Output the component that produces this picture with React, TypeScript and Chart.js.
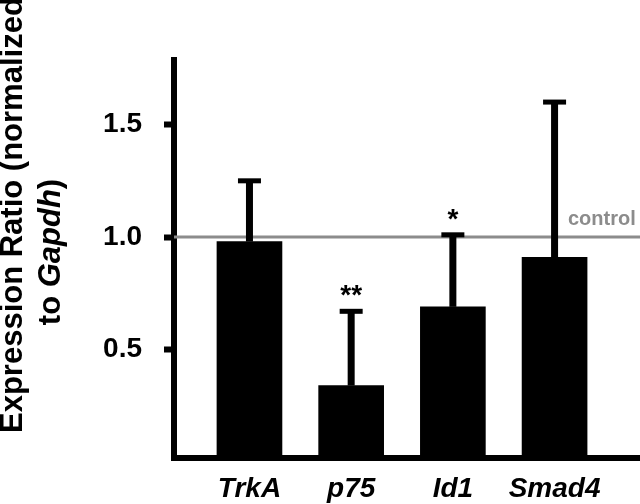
import React, { useEffect, useRef } from "react";
import { Chart, registerables } from "chart.js";

Chart.register(...registerables);

const categories = ["TrkA", "p75", "Id1", "Smad4"];
const means = [0.98, 0.34, 0.69, 0.91];
const errors = [0.27, 0.33, 0.32, 0.69];
const significance = ["", "**", "*", ""];
const yTicks = [0.5, 1.0, 1.5];
const controlValue = 1.0;
const controlLabel = "control";
const titleLine1 = "Expression Ratio (normalized";
const titleLine2 = [
  { text: "to ", italic: false },
  { text: "Gapdh", italic: true },
  { text: ")", italic: false },
];

const FAMILY = "'Liberation Sans', Arial, Helvetica, sans-serif";

const overlayPlugin = {
  id: "overlay",
  beforeDatasetsDraw(chart: any) {
    const { ctx, chartArea, scales } = chart;
    const y = scales.y.getPixelForValue(controlValue);
    ctx.save();
    ctx.strokeStyle = "#8c8c8c";
    ctx.lineWidth = 3;
    ctx.beginPath();
    ctx.moveTo(chartArea.left, y);
    ctx.lineTo(chartArea.right, y);
    ctx.stroke();
    ctx.fillStyle = "#8c8c8c";
    ctx.font = `bold 20px ${FAMILY}`;
    ctx.textAlign = "left";
    ctx.textBaseline = "alphabetic";
    ctx.fillText(controlLabel, 568, y - 12);
    ctx.restore();
  },
  afterDatasetsDraw(chart: any) {
    const { ctx, scales } = chart;
    const meta = chart.getDatasetMeta(0);
    ctx.save();
    ctx.fillStyle = "#000";
    meta.data.forEach((el: any, i: number) => {
      const x = el.x;
      const yBar = scales.y.getPixelForValue(means[i]);
      const yTop = scales.y.getPixelForValue(means[i] + errors[i]);
      ctx.fillRect(x - 3.5, yTop, 7, yBar - yTop);
      ctx.fillRect(x - 11.5, yTop - 2.5, 23, 5);
      if (significance[i]) {
        ctx.font = `bold 28px ${FAMILY}`;
        ctx.textAlign = "center";
        ctx.textBaseline = "alphabetic";
        ctx.fillText(significance[i], x, yTop - 7);
      }
    });
    ctx.restore();
  },
  afterDraw(chart: any) {
    const { ctx } = chart;
    ctx.save();
    ctx.fillStyle = "#000";
    ctx.textBaseline = "alphabetic";
    ctx.translate(22, 433);
    ctx.rotate(-Math.PI / 2);
    ctx.font = `bold 31px ${FAMILY}`;
    ctx.textAlign = "left";
    ctx.fillText(titleLine1, 0, 0);
    ctx.restore();

    ctx.save();
    ctx.fillStyle = "#000";
    ctx.textBaseline = "alphabetic";
    ctx.translate(60, 252);
    ctx.rotate(-Math.PI / 2);
    ctx.textAlign = "left";
    const fonts = titleLine2.map((s) =>
      s.italic ? `italic bold 31px ${FAMILY}` : `bold 31px ${FAMILY}`
    );
    let total = 0;
    const widths = titleLine2.map((s, i) => {
      ctx.font = fonts[i];
      const w = ctx.measureText(s.text).width;
      total += w;
      return w;
    });
    let x = -total / 2;
    titleLine2.forEach((s, i) => {
      ctx.font = fonts[i];
      ctx.fillText(s.text, x, 0);
      x += widths[i];
    });
    ctx.restore();
  },
};

export default function App() {
  const ref = useRef<HTMLCanvasElement>(null);
  useEffect(() => {
    if (!ref.current) return;
    const chart = new Chart(ref.current, {
      type: "bar",
      data: {
        datasets: [
          {
            data: means.map((v, i) => ({ x: i, y: v })),
            backgroundColor: "#000",
            borderWidth: 0,
            barThickness: 65,
          },
        ],
      },
      options: {
        animation: false,
        responsive: false,
        layout: { padding: { top: 60, right: 0, left: 0, bottom: 0 } },
        plugins: { legend: { display: false }, tooltip: { enabled: false } },
        scales: {
          x: {
            type: "linear",
            offset: false,
            min: -0.742,
            max: 3.84,
            afterBuildTicks: (scale: any) => {
              scale.ticks = categories.map((_, i) => ({ value: i }));
            },
            afterFit: (scale: any) => {
              scale.height = 46;
            },
            grid: { display: false, drawTicks: false, offset: false },
            border: { display: true, color: "#000", width: 6 },
            ticks: {
              padding: 14,
              color: "#000",
              font: { family: FAMILY, size: 28, weight: "bold", style: "italic" },
              callback: (v: any) => categories[Math.round(Number(v))] ?? "",
              maxRotation: 0,
              autoSkip: false,
            },
          },
          y: {
            type: "linear",
            min: 0.018,
            max: 1.787,
            afterBuildTicks: (scale: any) => {
              scale.ticks = yTicks.map((v) => ({ value: v }));
            },
            afterFit: (scale: any) => {
              scale.width = 174;
            },
            grid: {
              display: true,
              drawOnChartArea: false,
              drawTicks: true,
              tickLength: 10,
              tickWidth: 6,
              tickColor: "#000",
              color: "#000",
            },
            border: { display: true, color: "#000", width: 6 },
            ticks: {
              padding: 22,
              color: "#000",
              font: { family: FAMILY, size: 28, weight: "bold" },
              callback: (v: any) => Number(v).toFixed(1),
            },
          },
        },
      } as any,
      plugins: [overlayPlugin],
    });
    return () => chart.destroy();
  }, []);
  return (
    <div style={{ position: "fixed", left: 0, top: 0, width: 640, height: 504, background: "#fff" }}>
      <canvas ref={ref} width={640} height={504} style={{ width: 640, height: 504, display: "block" }} />
    </div>
  );
}
